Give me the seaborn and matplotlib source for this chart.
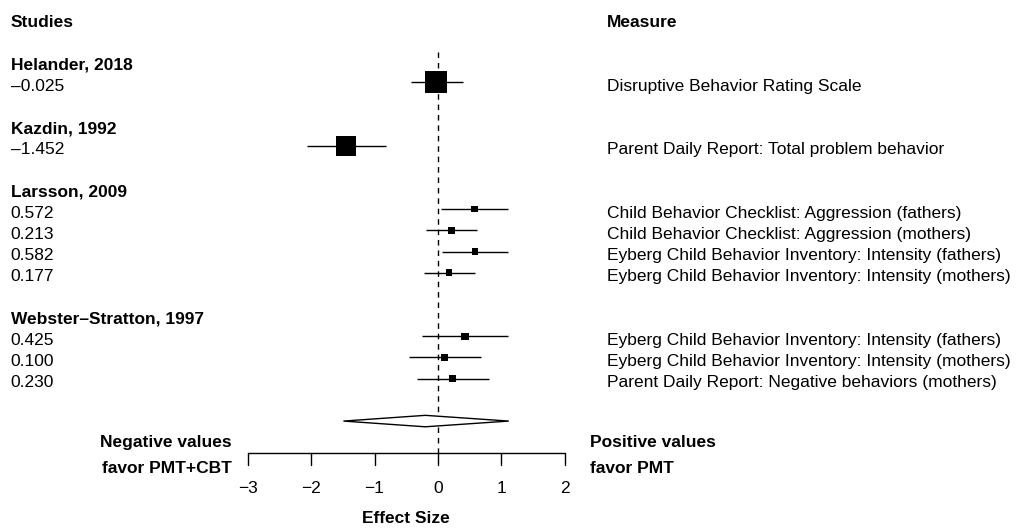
import numpy as np
import pandas as pd
import matplotlib
matplotlib.use("Agg")
import matplotlib.pyplot as plt
import seaborn as sns

# ---- data ----
studies = ["Helander, 2018", "Kazdin, 1992", "Larsson, 2009", "Webster\u2013Stratton, 1997"]
study_of_row = [0, 1, 2, 2, 2, 2, 3, 3, 3]
effects = [-0.025, -1.452, 0.572, 0.213, 0.582, 0.177, 0.425, 0.100, 0.230]
ci_low = [-0.43, -2.07, 0.05, -0.19, 0.06, -0.22, -0.25, -0.46, -0.33]
ci_high = [0.39, -0.82, 1.10, 0.62, 1.11, 0.58, 1.11, 0.67, 0.80]
weights = [22, 20, 6.5, 6.5, 6.5, 6.5, 7.5, 7, 7]
measures = [
    "Disruptive Behavior Rating Scale",
    "Parent Daily Report: Total problem behavior",
    "Child Behavior Checklist: Aggression (fathers)",
    "Child Behavior Checklist: Aggression (mothers)",
    "Eyberg Child Behavior Inventory: Intensity (fathers)",
    "Eyberg Child Behavior Inventory: Intensity (mothers)",
    "Eyberg Child Behavior Inventory: Intensity (fathers)",
    "Eyberg Child Behavior Inventory: Intensity (mothers)",
    "Parent Daily Report: Negative behaviors (mothers)",
]
pooled = -0.20
pooled_low = -1.49
pooled_high = 1.115
x_ticks = [-3, -2, -1, 0, 1, 2]

# ---- layout (row units) ----
rows = [3, 6, 9, 10, 11, 12, 15, 16, 17]
heading_rows = [2, 5, 8, 14]
pooled_row = 19
axis_row = 20.5
DY = 0.2  # text baseline nudge

sns.set_theme(style="white")
plt.rcParams["font.family"] = ["Liberation Sans", "DejaVu Sans"]
plt.rcParams["text.color"] = "black"
FS = 12.5

fig = plt.figure(figsize=(10.16, 5.30), dpi=100)
ax = fig.add_axes([0, 0, 1, 1])
ax.set_xlim(-438 / 63.47, 578 / 63.47)
ax.set_ylim(24.14, -0.868)
ax.axis("off")

df = pd.DataFrame({"effect": effects, "row": rows, "lo": ci_low, "hi": ci_high,
                   "w": weights})

# dashed reference line
ax.plot([0, 0], [1.6, axis_row], color="black", lw=1.0, ls=(0, (4, 3.5)), zorder=1)

# CI lines
ax.hlines(df["row"], df["lo"], df["hi"], color="black", lw=1.0, zorder=2)

# squares
sizes = {i: (w * 0.72) ** 2 for i, w in enumerate(weights)}
df["idx"] = range(len(df))
sns.scatterplot(data=df, x="effect", y="row", size="idx", sizes=sizes, marker="s",
                color="black", edgecolor="black", linewidth=0, legend=False, ax=ax,
                zorder=3)

# pooled diamond
ax.fill([pooled_low, pooled, pooled_high, pooled],
        [pooled_row, pooled_row - 0.27, pooled_row, pooled_row + 0.27],
        facecolor="white", edgecolor="black", lw=1.0, zorder=3)

# x axis
ax.plot([x_ticks[0], x_ticks[-1]], [axis_row, axis_row], color="black", lw=1.0)
for t in x_ticks:
    ax.plot([t, t], [axis_row, axis_row + 0.55], color="black", lw=1.0)
    ax.text(t, 22.0 + DY * 0.8, "\u2212" + str(abs(t)) if t < 0 else str(t),
            ha="center", va="center", fontsize=FS)
ax.text(np.mean([x_ticks[0], x_ticks[-1]]), 23.4 + DY, "Effect Size", ha="center",
        va="center", fontsize=FS, fontweight="bold")

# annotations
xl = -6.73
xr = 2.66
ax.text(xl, 0 + DY, "Studies", ha="left", va="center", fontsize=FS, fontweight="bold")
ax.text(xr, 0 + DY, "Measure", ha="left", va="center", fontsize=FS, fontweight="bold")
for s, r in zip(studies, heading_rows):
    ax.text(xl, r + DY, s, ha="left", va="center", fontsize=FS, fontweight="bold")
for e, r, m in zip(effects, rows, measures):
    lab = f"{e:.3f}".replace("-", "\u2013")
    ax.text(xl, r + DY, lab, ha="left", va="center", fontsize=FS)
    ax.text(xr, r + DY, m, ha="left", va="center", fontsize=FS)

ax.text(-3.25, 19.9 + DY * 0.6, "Negative values", ha="right", va="center",
        fontsize=FS, fontweight="bold")
ax.text(-3.25, 21.1 + DY * 0.8, "favor PMT+CBT", ha="right", va="center",
        fontsize=FS, fontweight="bold")
ax.text(2.39, 19.9 + DY * 0.6, "Positive values", ha="left", va="center",
        fontsize=FS, fontweight="bold")
ax.text(2.39, 21.1 + DY * 0.8, "favor PMT", ha="left", va="center", fontsize=FS,
        fontweight="bold")

fig.savefig("out.png", dpi=100, facecolor="white")
